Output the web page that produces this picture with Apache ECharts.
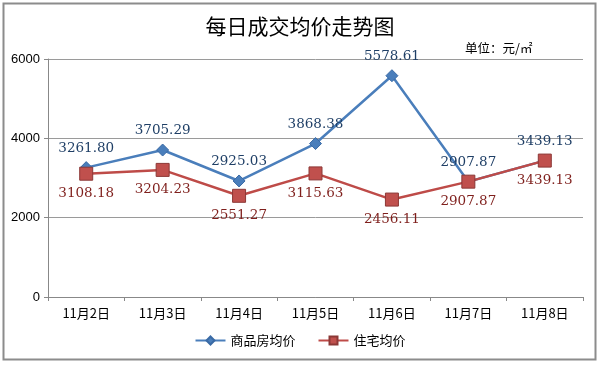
<!DOCTYPE html>
<html><head><meta charset="utf-8">
<script src="https://cdn.jsdelivr.net/npm/echarts@6/dist/echarts.min.js"></script>
<style>html,body{margin:0;padding:0;background:#fff}#c{width:600px;height:365px}</style>
</head><body><div id="c"></div>
<script>
const categories = ['11月2日','11月3日','11月4日','11月5日','11月6日','11月7日','11月8日'];
const commercialAvg = [3261.80, 3705.29, 2925.03, 3868.38, 5578.61, 2907.87, 3439.13];
const residentialAvg = [3108.18, 3204.23, 2551.27, 3115.63, 2456.11, 2907.87, 3439.13];
const yTicks = [0, 2000, 4000, 6000];
const seriesNames = ['商品房均价', '住宅均价'];

const chart = echarts.init(document.getElementById('c'));
const serif = '"DejaVu Serif","Liberation Serif",serif';
chart.setOption({
  animation: false,
  backgroundColor: '#fff',
  graphic: [{
    type: 'rect', shape: {x: 3.5, y: 3.5, width: 592, height: 356},
    style: {fill: 'none', stroke: '#8c8c8c', lineWidth: 2}, silent: true
  }],
  title: [{
    text: '每日成交均价走势图', left: 'center', top: 11,
    textStyle: {fontFamily: '"Noto Sans CJK SC"', fontSize: 21, fontWeight: 'normal', color: '#000'}
  }, {
    text: '单位：元/㎡', left: 460, top: 37,
    textStyle: {fontFamily: '"Noto Sans CJK SC"', fontSize: 12.5, fontWeight: 'normal', color: '#000'}
  }],
  legend: {
    bottom: 13, left: 'center', itemGap: 22, itemWidth: 30, itemHeight: 10,
    textStyle: {fontFamily: '"Noto Sans CJK SC"', fontSize: 13, color: '#000'},
    data: seriesNames
  },
  grid: {left: 48, right: 17, top: 59, bottom: 68},
  xAxis: {
    type: 'category', data: categories, boundaryGap: true,
    axisLine: {lineStyle: {color: '#888'}},
    axisTick: {show: true, alignWithLabel: false, length: 4, lineStyle: {color: '#888'}},
    axisLabel: {fontFamily: '"Noto Sans CJK SC"', fontSize: 13, color: '#000', margin: 10}
  },
  yAxis: {
    type: 'value', min: 0, max: 6000, interval: 2000,
    axisLine: {show: true, lineStyle: {color: '#888'}},
    axisTick: {show: true, length: 4, lineStyle: {color: '#888'}},
    axisLabel: {fontFamily: '"Liberation Sans",sans-serif', fontSize: 13, color: '#000', margin: 8,
      formatter: v => yTicks.includes(v) ? String(v) : ''},
    splitLine: {lineStyle: {color: '#9a9a9a'}}
  },
  series: [{
    name: seriesNames[0], type: 'line', data: commercialAvg,
    symbol: 'diamond', symbolSize: 12,
    lineStyle: {color: '#4a7ebb', width: 2.5},
    itemStyle: {color: '#4a7ebb', borderColor: '#3a6aa5', borderWidth: 1},
    label: {show: true, position: 'top', distance: 6,
      formatter: p => p.value.toFixed(2),
      fontFamily: serif, fontSize: 13.5, color: '#1f3f66'},
    z: 2
  }, {
    name: seriesNames[1], type: 'line', data: residentialAvg,
    symbol: 'rect', symbolSize: 13,
    lineStyle: {color: '#be4b48', width: 2.5},
    itemStyle: {color: '#c0504d', borderColor: '#8c3836', borderWidth: 1},
    label: {show: true, position: 'bottom', distance: 6,
      formatter: p => p.value.toFixed(2),
      fontFamily: serif, fontSize: 13.5, color: '#7f1f1c'},
    z: 3
  }]
});
</script></body></html>
